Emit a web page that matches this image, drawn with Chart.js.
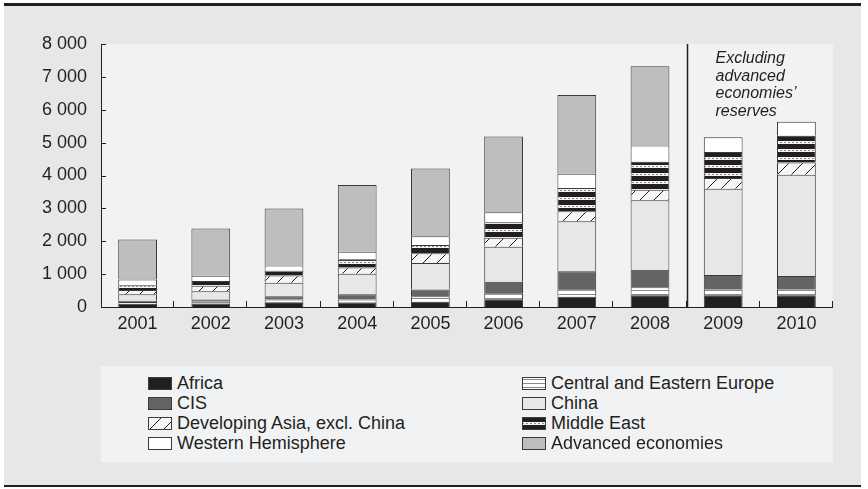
<!DOCTYPE html>
<html>
<head>
<meta charset="utf-8">
<script src="https://cdn.jsdelivr.net/npm/chart.js@4.4.1/dist/chart.umd.min.js"></script>
<style>
  body { margin: 0; background: #fff; font-family: "Liberation Sans", Arial, sans-serif; }
  #panel { position: absolute; left: 4px; top: 3px; width: 857px; height: 484px; box-sizing: border-box;
           background: #e6e7e8; border-top: 3px solid #231f20; border-bottom: 2px solid #231f20; }
  #wrap { position: absolute; left: 0; top: 0; width: 868px; height: 489px; }
  #legend { position: absolute; left: 101px; top: 366px; width: 732px; height: 96px; background: #f1f2f4; }
  .item { position: absolute; height: 20px; display: flex; align-items: center; font-size: 18px; color: #231f20; white-space: nowrap; }
  .item canvas { margin-right: 5px; }
</style>
</head>
<body>
<div id="panel"></div>
<div id="legend"></div>
<div id="wrap"><canvas id="reserves" width="868" height="489"></canvas></div>
<script>
const years = ["2001", "2002", "2003", "2004", "2005", "2006", "2007", "2008", "2009", "2010"];
const africa = [100, 110, 120, 130, 160, 235, 315, 355, 355, 355];
const centralEurope = [50, 60, 110, 100, 165, 180, 225, 245, 180, 180];
const cis = [40, 60, 100, 160, 210, 355, 550, 530, 435, 405];
const china = [195, 250, 405, 620, 800, 1065, 1515, 2115, 2630, 3080];
const devAsia = [130, 170, 220, 195, 300, 275, 305, 325, 325, 375];
const middleEast = [150, 140, 150, 245, 250, 470, 710, 845, 790, 815];
const westHem = [170, 160, 155, 230, 265, 300, 435, 500, 450, 425];
const advanced = [1220, 1440, 1740, 2030, 2060, 2310, 2395, 2405, null, null];
const yTicks = [0, 1000, 2000, 3000, 4000, 5000, 6000, 7000, 8000];
const note = ["Excluding", "advanced", "economies’", "reserves"];

const ink = "#231f20";

// small tiles for the hatched series
function makePattern(ctx, kind) {
  const t = document.createElement("canvas");
  const c = t.getContext("2d");
  if (kind === "cee") {
    t.width = 4; t.height = 4;
    c.fillStyle = "#fff"; c.fillRect(0, 0, 4, 4);
    c.fillStyle = "#8a8a8a"; c.fillRect(0, 2, 4, 1);
  } else if (kind === "asia") {
    t.width = 14; t.height = 14;
    c.fillStyle = "#f6f6f6"; c.fillRect(0, 0, 14, 14);
    c.strokeStyle = ink; c.lineWidth = 1;
    c.beginPath(); c.moveTo(0, 14); c.lineTo(14, 0); c.stroke();
  } else if (kind === "me") {
    t.width = 4; t.height = 8;
    c.fillStyle = ink; c.fillRect(0, 0, 4, 8);
    c.fillStyle = "#f4f4f4"; c.fillRect(0, 5, 4, 3);
    c.fillStyle = "#888"; c.fillRect(0, 6, 2, 1);
  }
  return ctx.createPattern(t, "repeat");
}

const canvas = document.getElementById("reserves");
const ctx = canvas.getContext("2d");

const seriesDefs = [
  { label: "Africa", data: africa, fill: ink },
  { label: "Central and Eastern Europe", data: centralEurope, pattern: "cee" },
  { label: "CIS", data: cis, fill: "#636466" },
  { label: "China", data: china, fill: "#e6e7e8" },
  { label: "Developing Asia, excl. China", data: devAsia, pattern: "asia" },
  { label: "Middle East", data: middleEast, pattern: "me" },
  { label: "Western Hemisphere", data: westHem, fill: "#ffffff" },
  { label: "Advanced economies", data: advanced, fill: "#bcbec0" },
];

const fmt = (v) => String(v).replace(/\B(?=(\d{3})+(?!\d))/g, " ");

const frame = {
  id: "frame",
  beforeDraw(chart) {
    const a = chart.chartArea, c = chart.ctx;
    c.save();
    c.fillStyle = "#f1f2f4";
    c.fillRect(a.left, a.top, a.right - a.left, a.bottom - a.top);
    c.restore();
  },
  afterDraw(chart) {
    const a = chart.chartArea, c = chart.ctx;
    const xs = chart.scales.x, ys = chart.scales.y;
    c.save();
    c.strokeStyle = ink;
    c.lineWidth = 1;
    c.beginPath();
    c.moveTo(a.left + 0.5, a.top); c.lineTo(a.left + 0.5, a.bottom + 0.5);
    c.lineTo(a.right, a.bottom + 0.5);
    yTicks.forEach((v) => {
      const y = Math.round(ys.getPixelForValue(v)) + 0.5;
      c.moveTo(a.left, y); c.lineTo(a.left + 5, y);
    });
    const step = (a.right - a.left) / years.length;
    for (let i = 1; i <= years.length; i++) {
      const x = Math.round(a.left + i * step) - 0.5;
      c.moveTo(x, a.bottom); c.lineTo(x, a.bottom - 6);
    }
    c.stroke();

    // separator between 2008 and 2009
    const sx = Math.round((xs.getPixelForValue(7) + xs.getPixelForValue(8)) / 2) + 0.5;
    c.lineWidth = 1.5;
    c.beginPath(); c.moveTo(sx, a.top); c.lineTo(sx, a.bottom); c.stroke();

    c.fillStyle = ink;
    c.font = "italic 16px 'Liberation Sans', Arial, sans-serif";
    c.textBaseline = "middle";
    c.textAlign = "left";
    note.forEach((t, i) => c.fillText(t, sx + 28, 59 + i * 17.5));
    c.restore();
  },
};

const chart = new Chart(ctx, {
  type: "bar",
  data: {
    labels: years,
    datasets: seriesDefs.map((s) => ({
      label: s.label,
      data: s.data,
      backgroundColor: s.pattern ? makePattern(ctx, s.pattern) : s.fill,
      borderColor: "#3a3a3a",
      borderWidth: 1,
      barPercentage: 0.53,
      categoryPercentage: 1,
    })),
  },
  options: {
    responsive: false,
    animation: false,
    devicePixelRatio: 1,
    layout: { padding: { left: 0, top: 44, right: 35, bottom: 142 } },
    plugins: { legend: { display: false }, tooltip: { enabled: false } },
    scales: {
      x: {
        stacked: true,
        grid: { display: false, drawTicks: false },
        border: { display: false },
        ticks: { color: ink, padding: 6, font: { size: 18, family: "'Liberation Sans', Arial" } },
        afterFit: (s) => { s.height = 40; },
      },
      y: {
        stacked: true,
        min: 0,
        max: 8000,
        grid: { display: false, drawTicks: false },
        border: { display: false },
        afterBuildTicks: (s) => { s.ticks = yTicks.map((v) => ({ value: v })); },
        ticks: {
          color: ink,
          padding: 14,
          font: { size: 18, family: "'Liberation Sans', Arial" },
          callback: (v) => fmt(v),
        },
        afterFit: (s) => { s.width = 101; },
      },
    },
  },
  plugins: [frame],
});

// two-column legend built from the datasets
const legend = document.getElementById("legend");
chart.data.datasets.forEach((ds, i) => {
  const def = seriesDefs[i];
  const item = document.createElement("div");
  item.className = "item";
  item.style.left = (i % 2 === 0 ? 47 : 421) + "px";
  item.style.top = (7 + Math.floor(i / 2) * 20) + "px";
  const box = document.createElement("canvas");
  box.width = 24; box.height = 13;
  const bc = box.getContext("2d");
  bc.fillStyle = def.pattern ? makePattern(bc, def.pattern) : def.fill;
  bc.fillRect(0.5, 0.5, 23, 12);
  bc.strokeStyle = "#3a3a3a";
  bc.strokeRect(0.5, 0.5, 23, 12);
  item.appendChild(box);
  const txt = document.createElement("span");
  txt.textContent = ds.label;
  item.appendChild(txt);
  legend.appendChild(item);
});
</script>
</body>
</html>
